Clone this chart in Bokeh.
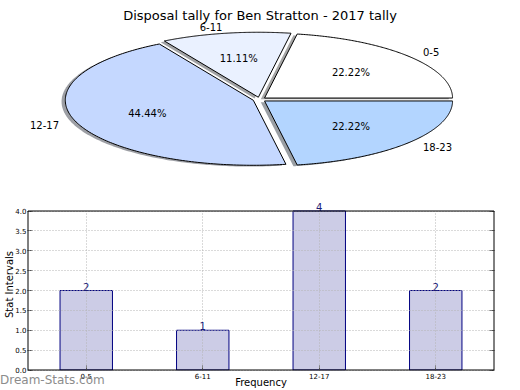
import numpy as np
from bokeh.plotting import figure
from bokeh.models import (Range1d, ColumnDataSource, Label, LabelSet, Div,
                          LinearAxis, FixedTicker, PrintfTickFormatter)
from bokeh.layouts import column
from bokeh.embed import file_html
from bokeh.resources import INLINE
from bokeh.core.properties import value

# ---------------- data ----------------
title_text = "Disposal tally for Ben Stratton - 2017 tally"
categories = ["0-5", "6-11", "12-17", "18-23"]
counts = [2, 1, 4, 2]
wedge_colors = ["#ffffff", "#eaf1ff", "#c5d8ff", "#b3d5ff"]
y_ticks = [0.0, 0.5, 1.0, 1.5, 2.0, 2.5, 3.0, 3.5, 4.0]
x_label = "Frequency"
y_label = "Stat Intervals"
watermark = "Dream-Stats.com"

FONT = value("DejaVu Sans")
W = 520
PIE_H = 190
BAR_H = 200
FL, FR = 27, 494          # frame left / right (shared by both figures)

# ---------------- pie ----------------
RX, RY = 188.0, 65.0
CX, CY = 259.0, 99.0
pie = figure(width=W, height=PIE_H,
             x_range=Range1d(-(CX - FL) / RX, (FR - CX) / RX),
             y_range=Range1d(-(PIE_H - CY) / RY, CY / RY),
             x_axis_type=None, y_axis_type=None,
             output_backend="svg", toolbar_location=None,
             min_border_left=FL, min_border_right=W - FR,
             min_border_top=0, min_border_bottom=0)
pie.grid.visible = False
pie.outline_line_color = None

vals = np.array(counts, dtype=float)
fr = vals / vals.sum()
ends = np.cumsum(fr) * 2 * np.pi
starts = ends - fr * 2 * np.pi
mids = (starts + ends) / 2
EXPLODE = 0.035

xs, ys, sxs, sys_ = [], [], [], []
for a0, a1, am in zip(starts, ends, mids):
    t = np.linspace(a0, a1, 160)
    ox, oy = EXPLODE * np.cos(am), EXPLODE * np.sin(am)
    px = np.concatenate([[ox], ox + np.cos(t), [ox]])
    py = np.concatenate([[oy], oy + np.sin(t), [oy]])
    xs.append(px)
    ys.append(py)
    sxs.append(px - 0.02)
    sys_.append(py - 0.02)


def shade(c):
    r, g, b = int(c[1:3], 16), int(c[3:5], 16), int(c[5:7], 16)
    return "#%02x%02x%02x" % (int(r * 0.3), int(g * 0.3), int(b * 0.3))


pie.patches(sxs, sys_, fill_color=[shade(c) for c in wedge_colors],
            fill_alpha=0.5, line_color=None)
pie.patches(xs, ys, fill_color=wedge_colors, line_color="black",
            line_width=1, line_join="miter")

lab_r = 1.1 + EXPLODE
pct_r = 0.6 + EXPLODE
lab_src = ColumnDataSource(dict(
    x=lab_r * np.cos(mids), y=lab_r * np.sin(mids), text=categories,
    align=["left" if np.cos(m) > 0 else "right" for m in mids]))
pie.text(x="x", y="y", text="text", text_align="align",
         text_baseline="middle", text_font=FONT, text_font_size="10px",
         text_color="black", source=lab_src)
pct_src = ColumnDataSource(dict(
    x=pct_r * np.cos(mids), y=pct_r * np.sin(mids),
    text=["%.2f%%" % (f * 100) for f in fr]))
pie.text(x="x", y="y", text="text", text_align="center",
         text_baseline="middle", text_font=FONT, text_font_size="10px",
         text_color="black", source=pct_src)

pie.add_layout(Label(x=0.003, y=1.3, text=title_text, text_align="center",
                     text_baseline="alphabetic", text_font="DejaVu Sans",
                     text_font_size="13px", text_color="black"))

# ---------------- bar ----------------
# axes box spans x -0.5..3.5, y 0..4; the frame is a little taller so that
# the value label above the tallest bar is not clipped away.
BT, BB = 198, 370                    # frame top / bottom in page px
BOX_TOP = 210.5
PXX = (FR - FL - 1) / 4.0            # px per category
PXY = (BB - 0.5 - BOX_TOP) / 4.0     # px per y unit
x_pos = np.arange(len(categories))
bar = figure(width=W, height=BAR_H,
             x_range=Range1d(-0.5 - 0.5 / PXX, 3.5 + 0.5 / PXX),
             y_range=Range1d(-0.5 / PXY, 4 + (BOX_TOP - BT) / PXY),
             output_backend="svg", toolbar_location=None,
             min_border_left=FL, min_border_right=W - FR,
             min_border_top=BT - PIE_H, min_border_bottom=PIE_H + BAR_H - BB)
bar.outline_line_color = None

bar.vbar(x=x_pos, top=counts, width=0.45, fill_color="#ccccE6",
         line_color="#000080", line_width=1)
box = bar.quad(left=[x_pos[0] - 0.5], right=[x_pos[-1] + 0.5],
               bottom=[y_ticks[0]], top=[y_ticks[-1]],
               fill_color=None, line_color="black", line_width=1)
box.level = "overlay"

val_src = ColumnDataSource(dict(x=x_pos, y=counts,
                                text=[str(c) for c in counts]))
bar.add_layout(LabelSet(x="x", y="y", text="text", source=val_src,
                        text_align="center", text_baseline="bottom",
                        text_font=FONT, text_font_size="10px",
                        text_color="#1c1c78"))

bar.xaxis.ticker = FixedTicker(ticks=list(x_pos))
bar.xaxis.major_label_overrides = {int(i): c for i, c in zip(x_pos, categories)}
bar.yaxis.ticker = FixedTicker(ticks=y_ticks)
bar.yaxis.formatter = PrintfTickFormatter(format="%.1f")
for ax in (bar.xaxis[0], bar.yaxis[0]):
    ax.axis_line_color = None
    ax.major_tick_in = 5
    ax.major_tick_out = 0
    ax.major_tick_line_color = "#555555"
    ax.minor_tick_line_color = None
    ax.major_label_text_font_size = "7px"
    ax.major_label_text_font = "DejaVu Sans"
    ax.major_label_text_color = "black"
    ax.axis_label_text_font = "DejaVu Sans"
    ax.axis_label_text_font_size = "10px"
    ax.axis_label_text_font_style = "normal"
    ax.axis_label_text_color = "black"
bar.xaxis.major_label_standoff = 2
bar.yaxis.major_label_standoff = 1
bar.xaxis.axis_label = x_label
bar.yaxis.axis_label = y_label
bar.xaxis.axis_label_standoff = -5
bar.yaxis.axis_label_standoff = -3

ra = LinearAxis(ticker=FixedTicker(ticks=y_ticks), axis_line_color=None,
                major_tick_in=5, major_tick_out=0,
                major_tick_line_color="#555555", minor_tick_line_color=None,
                major_label_overrides={t: "" for t in y_ticks},
                major_label_text_font_size="7px")
bar.add_layout(ra, "right")

bar.xgrid.cross_bounds = (y_ticks[0], y_ticks[-1])
bar.ygrid.cross_bounds = (x_pos[0] - 0.5, x_pos[-1] + 0.5)
for g in (bar.xgrid[0], bar.ygrid[0]):
    g.grid_line_color = "#b4b4b4"
    g.grid_line_dash = "1 2"
    g.grid_line_width = 1
    g.level = "guide"

mark = Div(text=watermark, margin=(-17, 0, 0, 0),
           styles={"font-family": "DejaVu Sans", "font-size": "12px",
                   "color": "#8c8c8c", "line-height": "14px",
                   "white-space": "nowrap"})

layout = column(pie, bar, mark)
open("out.html", "w").write(file_html(layout, INLINE))
